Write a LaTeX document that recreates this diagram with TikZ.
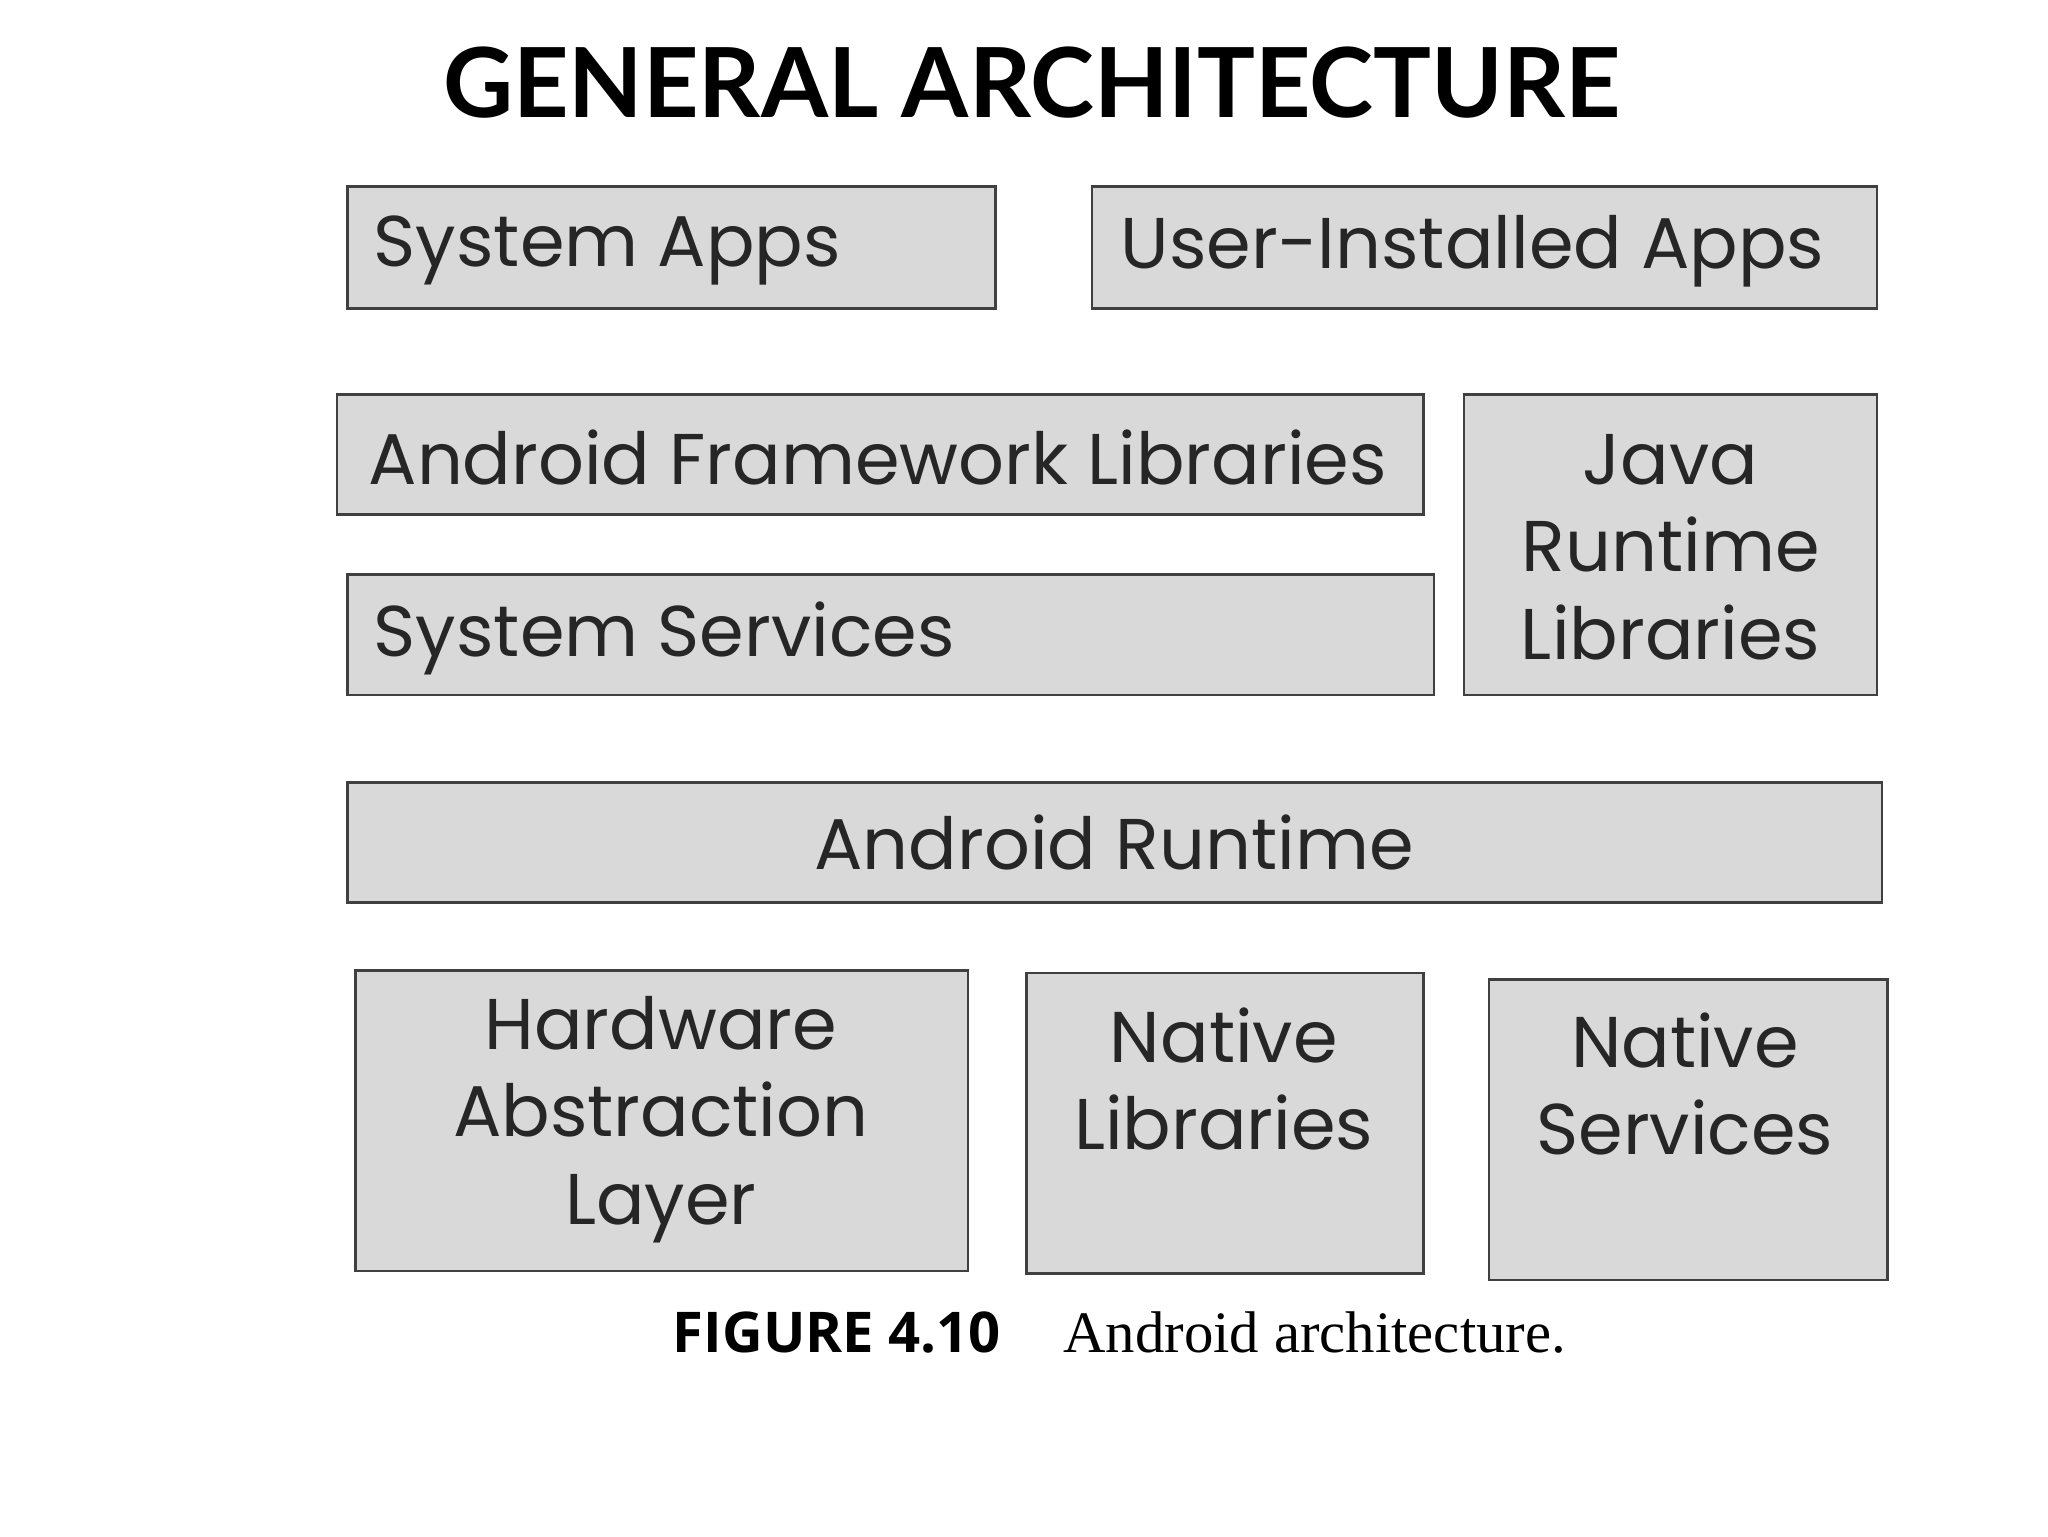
\documentclass[tikz,border=0pt]{standalone}
\usepackage{fontspec}
\setmainfont{Liberation Serif}
\newfontfamily\boxfont{Poppins}
\newfontfamily\titlefont{Lato}
\newfontfamily\capsans{Open Sans}
\begin{document}
\begin{tikzpicture}[x=1pt,y=-1pt,
  layer/.style={draw=black!75,line width=2pt,fill=black!15},
  lbl/.style={font=\boxfont\fontsize{55}{67}\selectfont,text=black!85,align=center,inner sep=0pt}]
\useasboundingbox (0,0) rectangle (1568,1176);
\fill[white] (0,0) rectangle (1568,1176);
\node[font=\titlefont\bfseries\fontsize{74}{80}\selectfont,inner sep=0pt] (title) at (790,63) {GENERAL ARCHITECTURE};
\draw[layer] (266,143) rectangle (762,236);
\node[lbl,anchor=west] (tsa) at (286,192) {System Apps};
\draw[layer] (836,143) rectangle (1437,236);
\node[lbl,anchor=west] (tua) at (858,192) {User-Installed Apps};
\draw[layer] (258,302) rectangle (1090,394);
\node[lbl,anchor=west] (tafl) at (282,350) {Android Framework Libraries};
\draw[layer] (1121,302) rectangle (1437,532);
\node[lbl] (tj) at (1279,419) {Java\\Runtime\\Libraries};
\draw[layer] (266,440) rectangle (1098,532);
\node[lbl,anchor=west] (tss) at (286,489) {System Services};
\draw[layer] (266,599) rectangle (1441,691);
\node[lbl] (tar) at (853,645) {Android Runtime};
\draw[layer] (272,743) rectangle (741,973);
\node[lbl] (thal) at (506,857) {Hardware\\Abstraction\\Layer};
\draw[layer] (786,745) rectangle (1090,975);
\node[lbl] (tnl) at (937,826) {Native\\Libraries};
\draw[layer] (1140,750) rectangle (1445,980);
\node[lbl] (tns) at (1290,830) {Native\\Services};
\node[inner sep=0pt,anchor=west] (cap) at (515,1020) {{\capsans\bfseries\fontsize{43}{48}\selectfont FIGURE 4.10}\hspace{48pt}{\fontsize{45}{48}\selectfont Android architecture.}};
\end{tikzpicture}
\end{document}
